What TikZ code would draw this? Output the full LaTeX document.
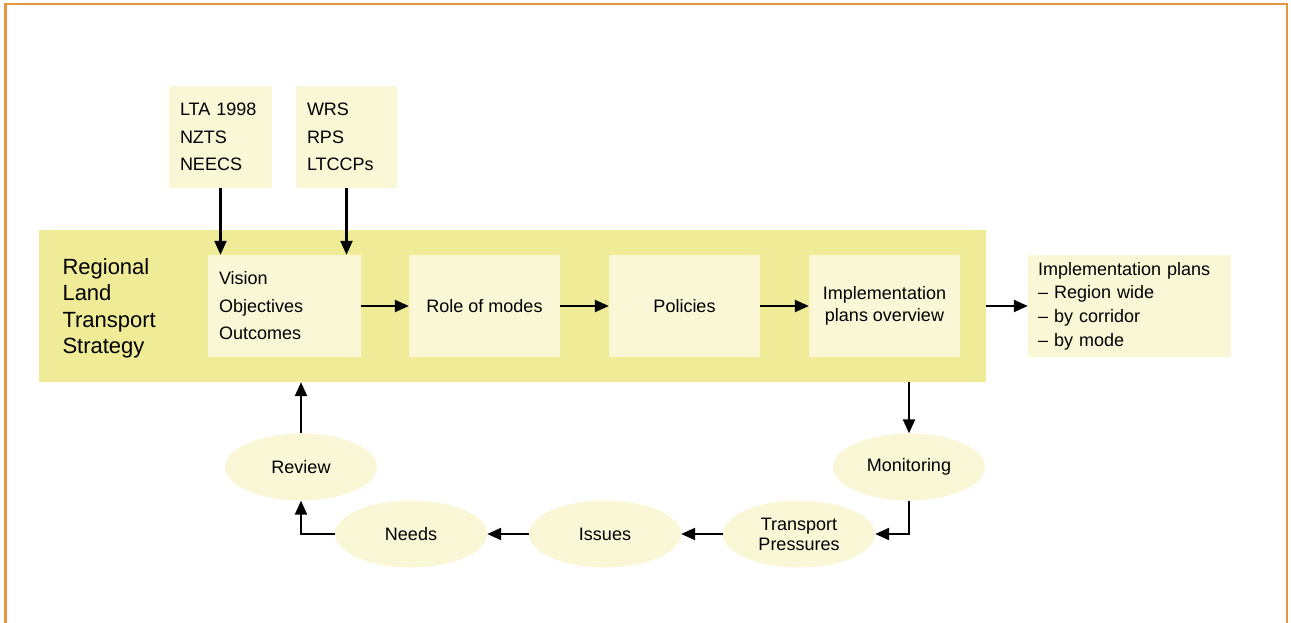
\documentclass[tikz,border=0pt]{standalone}
\usepackage{fontspec}
\setmainfont{Liberation Sans}
\usetikzlibrary{arrows.meta,shapes.geometric}
\definecolor{rltsfill}{RGB}{240,235,150}
\definecolor{boxfill}{RGB}{249,247,214}
\definecolor{framecol}{RGB}{226,150,62}
\tikzset{
  txt/.style={font=\fontsize{18}{27.5}\selectfont},
  inbox/.style={txt,fill=boxfill,rectangle,minimum height=102,inner ysep=0},
  loopnode/.style={ellipse,fill=boxfill,minimum width=152,minimum height=67,inner sep=0,
    font=\fontsize{18}{20}\selectfont,align=center},
  flow/.style={line width=2.2pt,-{Triangle[length=14pt,width=12pt]}}
}
\begin{document}
\begin{tikzpicture}[x=1pt,y=-1pt]
	\useasboundingbox (0,0) rectangle (1291,623);
	\draw[framecol,line width=2.5pt] (5.5,4) rectangle (1287,660);
	% strategy band
	\node[rectangle,fill=rltsfill,minimum width=947,minimum height=152,inner sep=0] (rlts) at (512.5,306) {};
	\node[anchor=west,align=left,font=\fontsize{22}{26.5}\selectfont] (title) at (59,308.5)
		{Regional\\Land\\Transport\\Strategy};
	% inputs
	\node[inbox,text width=81,inner xsep=11,align=left] (lta) at (220.5,137) {LTA 1998\\NZTS\\NEECS};
	\node[inbox,text width=79,inner xsep=11,align=left] (wrs) at (346.5,137) {WRS\\RPS\\LTCCPs};
	% strategy steps
	\node[inbox,text width=131,inner xsep=11,align=left] (vision) at (284.5,306) {Vision\\Objectives\\Outcomes};
	\node[inbox,minimum width=151,align=center] (modes) at (484.5,306) {Role of modes};
	\node[inbox,minimum width=151,align=center] (policies) at (684.5,306) {Policies};
	\node[inbox,minimum width=151,align=center,font=\fontsize{18}{21.5}\selectfont] (overview) at (884.5,306)
		{Implementation\\plans overview};
	\node[inbox,text width=183,inner xsep=10,align=left,font=\fontsize{18}{23.7}\selectfont] (plans) at (1129.5,306)
		{Implementation plans\\-- Region wide\\-- by corridor\\-- by mode};
	% review loop
	\node[loopnode] (review) at (301,467) {Review};
	\node[loopnode] (needs) at (411,534) {Needs};
	\node[loopnode] (issues) at (605,534) {Issues};
	\node[loopnode] (pressures) at (799,534) {Transport\\Pressures};
	\node[loopnode] (monitoring) at (909,467) {Monitoring};
	\draw[flow] (lta.south) -- (lta.south |- vision.north);
	\draw[flow] (wrs.south) -- (wrs.south |- vision.north);
	\draw[flow] (vision) -- (modes);
	\draw[flow] (modes) -- (policies);
	\draw[flow] (policies) -- (overview);
	\draw[flow] (overview -| rlts.east) -- (plans.west);
	\draw[flow] (monitoring |- rlts.south) -- (monitoring.north);
	\draw[flow] (monitoring.south) |- (pressures.east);
	\draw[flow] (pressures) -- (issues);
	\draw[flow] (issues) -- (needs);
	\draw[flow] (needs.west) -| (review.south);
	\draw[flow] (review.north) -- (review |- rlts.south);
\end{tikzpicture}
\end{document}
